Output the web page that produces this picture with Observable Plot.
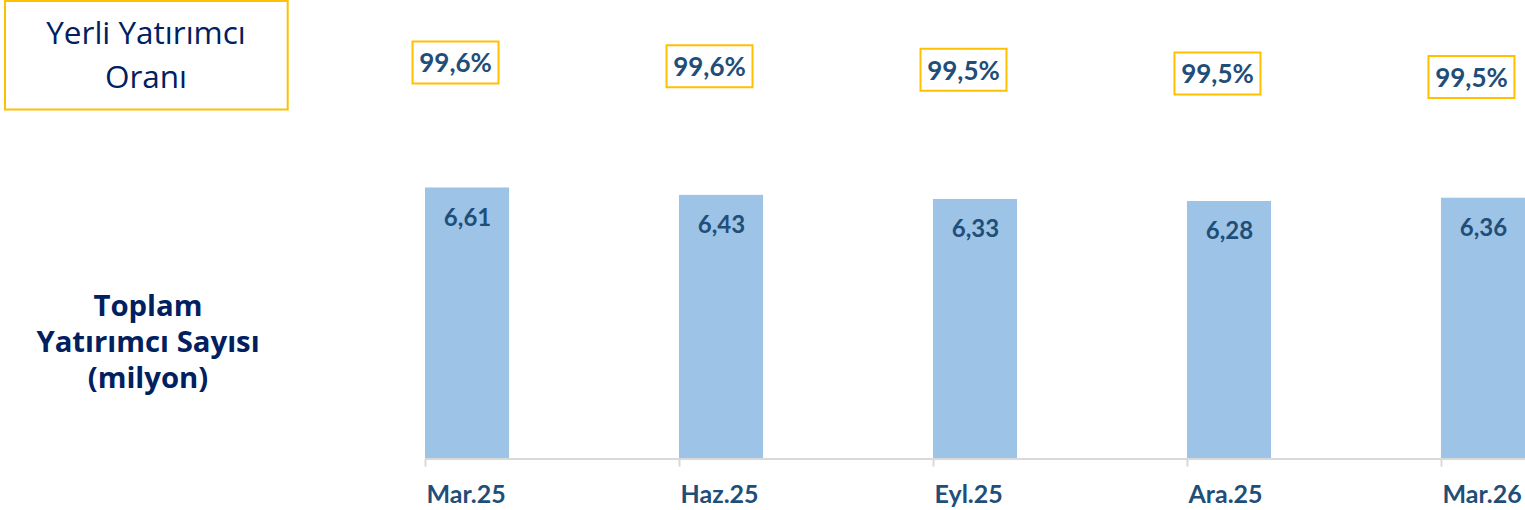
<!DOCTYPE html>
<html>
<head>
<meta charset="utf-8">
<script src="https://cdn.jsdelivr.net/npm/d3@7"></script>
<script src="https://cdn.jsdelivr.net/npm/@observablehq/plot@0.6"></script>
<style>
  html, body { margin: 0; padding: 0; background: #fff; }
  #wrap { position: relative; width: 1525px; height: 510px; overflow: hidden; font-family: "Open Sans", Lato, sans-serif; }
  #wrap > * { position: absolute; left: 0; top: 0; }
</style>
</head>
<body>
<div id="wrap">
  <svg id="side" width="300" height="510" style="font-family: 'Open Sans', sans-serif;">
    <rect x="5" y="1" width="282.7" height="108.5" fill="none" stroke="#FFC000" stroke-width="2"></rect>
    <text x="146" y="44" text-anchor="middle" font-size="31.5" fill="#002060">Yerli Yatırımcı</text>
    <text x="146" y="88" text-anchor="middle" font-size="31.5" fill="#002060">Oranı</text>
    <text x="148" y="316" text-anchor="middle" font-size="29.3" font-weight="bold" fill="#002060">Toplam</text>
    <text x="148" y="352" text-anchor="middle" font-size="29.3" font-weight="bold" fill="#002060">Yatırımcı Sayısı</text>
    <text x="148" y="388" text-anchor="middle" font-size="29.3" font-weight="bold" fill="#002060">(milyon)</text>
  </svg>
</div>
<script>
// ---- data ----
const periods = ["Mar.25", "Haz.25", "Eyl.25", "Ara.25", "Mar.26"];
const totalInvestors = [6.61, 6.43, 6.33, 6.28, 6.36];      // milyon
const domesticShare = [99.62, 99.58, 99.54, 99.50, 99.46];   // % (labels shown rounded)

const rows = periods.map((p, i) => ({period: p, investors: totalInvestors[i], share: domesticShare[i]}));

const navy = "#1F4E79";
const gold = "#FFC000";
const barFill = "#9DC3E6";
const fmtInv = v => v.toFixed(2).replace(".", ",");
const fmtPct = v => v.toFixed(1).replace(".", ",") + "%";

const xScale = () => ({type: "band", domain: periods, paddingInner: 0.669, paddingOuter: 0, round: false, axis: null});
const boxSymbol = {draw(context) { context.rect(-43, -21, 86, 42); }};

// top strip: domestic investor share boxes
const sharePlot = Plot.plot({
  width: 1525,
  height: 110,
  marginLeft: 425,
  marginRight: 0,
  marginTop: 0,
  marginBottom: 0,
  style: {fontFamily: "Lato, sans-serif", background: "transparent"},
  x: xScale(),
  y: {domain: [99.4, 99.7], range: [82, 54.8], axis: null},
  marks: [
    Plot.dot(rows, {x: "period", y: "share", symbol: boxSymbol, r: 5, fill: "white", stroke: gold, strokeWidth: 2, dx: -12}),
    Plot.text(rows, {x: "period", y: "share", text: d => fmtPct(d.share), dx: -12, dy: 1.5, fill: navy, fontSize: 26, fontWeight: "bold"})
  ]
});

// bar chart
const barPlot = Plot.plot({
  width: 1525,
  height: 510,
  marginLeft: 425,
  marginRight: 0,
  marginTop: 171.5,
  marginBottom: 51.5,
  style: {fontFamily: "Lato, sans-serif", background: "transparent"},
  x: xScale(),
  y: {domain: [0, 7], axis: null},
  marks: [
    Plot.barY(rows, {x: "period", y: "investors", fill: barFill}),
    Plot.ruleY([0], {stroke: "#D9D9D9", strokeWidth: 2}),
    Plot.axisX({tickSize: 8, tickFormat: () => "", label: null, stroke: "#D9D9D9", strokeWidth: 2, dx: -42}),
    Plot.axisX({tickSize: 0, tickPadding: 26, label: null, dx: -41, textAnchor: "start", fill: navy, fontSize: 25, fontWeight: "bold"}),
    Plot.text(rows, {x: "period", y: "investors", text: d => fmtInv(d.investors), dy: 30, fill: navy, fontSize: 24, fontWeight: "bold"})
  ]
});

const wrap = document.getElementById("wrap");
wrap.appendChild(barPlot);
wrap.appendChild(sharePlot);
</script>
</body>
</html>
